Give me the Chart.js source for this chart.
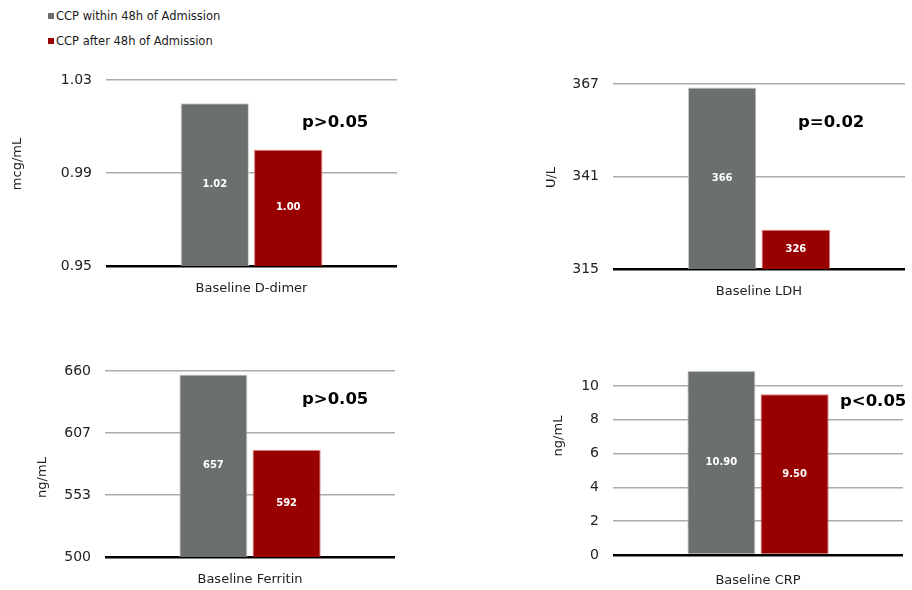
<!DOCTYPE html>
<html><head><meta charset="utf-8">
<script src="https://cdn.jsdelivr.net/npm/chart.js@4.4.0/dist/chart.umd.min.js"></script>
<style>
html,body{margin:0;padding:0;background:#fff;width:912px;height:590px;overflow:hidden;font-family:'DejaVu Sans',sans-serif;}
canvas{position:absolute;left:0;top:0;}
.leg{position:absolute;left:48px;font-size:11.5px;color:#1a1a1a;height:14px;line-height:14px;white-space:nowrap;}
.leg i{display:inline-block;width:6px;height:6px;margin-right:2px;vertical-align:1px;}
</style></head><body>
<script>
// ---- data ----
const seriesNames = ['CCP within 48h of Admission', 'CCP after 48h of Admission'];
const seriesColors = ['#6b706f', '#990000'];
const categories = ['Baseline D-dimer', 'Baseline LDH', 'Baseline Ferritin', 'Baseline CRP'];
const units = ['mcg/mL', 'U/L', 'ng/mL', 'ng/mL'];
const within48h = [1.02, 366, 657, 10.9];
const after48h = [1.00, 326, 592, 9.5];
const labelsWithin = ['1.02', '366', '657', '10.90'];
const labelsAfter = ['1.00', '326', '592', '9.50'];
const pValues = ['p>0.05', 'p=0.02', 'p>0.05', 'p<0.05'];
const axisMin = [0.95, 315, 500, 0];
const axisMax = [1.03, 367, 660, 11];
const tickLabelsDdimer = ['0.95', '0.99', '1.03'];
const tickLabelsLDH = ['315', '341', '367'];
const tickLabelsFerritin = ['500', '553', '607', '660'];
const tickLabelsCRP = ['0', '2', '4', '6', '8', '10'];
const tickLabels = [tickLabelsDdimer, tickLabelsLDH, tickLabelsFerritin, tickLabelsCRP];

// ---- layout (page pixels) ----
const W = 912, H = 590;
const panels = [
  {area: [106, 80, 397, 266], title: [17.5, 164], p: [302, 127], xPad: 7},
  {area: [613, 84, 905, 269], title: [552, 177.5], p: [798, 127], xPad: 7},
  {area: [105, 371, 395, 557], title: [42.5, 477.5], p: [302, 404], xPad: 7},
  {area: [613, 369, 903, 555], title: [559, 436], p: [840, 406], xPad: 10}
];

// legend
seriesNames.forEach((n, i) => {
  const d = document.createElement('div');
  d.className = 'leg';
  d.style.top = (i === 0 ? 9 : 34) + 'px';
  const sq = document.createElement('i');
  sq.style.background = seriesColors[i];
  d.appendChild(sq);
  d.appendChild(document.createTextNode(n));
  document.body.appendChild(d);
});

const annotPlugin = {
  id: 'annot',
  afterDatasetsDraw(chart, args, opts) {
    const ctx = chart.ctx;
    const bottom = chart.chartArea.bottom;
    ctx.save();
    ctx.font = 'bold 10px "DejaVu Sans"';
    ctx.fillStyle = '#ffffff';
    ctx.textAlign = 'center';
    ctx.textBaseline = 'middle';
    chart.data.datasets.forEach((ds, di) => {
      chart.getDatasetMeta(di).data.forEach((el, i) => {
        const base = Math.min(el.base, bottom);
        ctx.fillText(ds.valueLabels[i], el.x, (el.y + base) / 2);
      });
    });
    ctx.font = 'bold 16.5px "DejaVu Sans"';
    ctx.fillStyle = '#000';
    ctx.textAlign = 'left';
    ctx.textBaseline = 'alphabetic';
    ctx.fillText(opts.pText, opts.px, opts.py);
    ctx.translate(opts.tx, opts.ty);
    ctx.rotate(-Math.PI / 2);
    ctx.font = '13px "DejaVu Sans"';
    ctx.fillStyle = '#222';
    ctx.textAlign = 'center';
    ctx.textBaseline = 'middle';
    ctx.fillText(opts.title, 0, 0);
    ctx.restore();
  }
};

panels.forEach((pn, k) => {
  const cv = document.createElement('canvas');
  cv.width = W; cv.height = H;
  document.body.appendChild(cv);
  const [L, T, R, B] = pn.area;
  const yTicks = {
    color: '#222',
    font: {family: 'DejaVu Sans', size: 14},
    padding: 14,
    callback: (v, i) => tickLabels[k][i]
  };
  if (k === 3) { yTicks.stepSize = 2; yTicks.includeBounds = false; }
  else { yTicks.count = tickLabels[k].length; }
  new Chart(cv, {
    type: 'bar',
    data: {
      labels: [categories[k]],
      datasets: [
        {label: seriesNames[0], data: [within48h[k]], valueLabels: [labelsWithin[k]],
         backgroundColor: seriesColors[0], borderColor: 'rgba(200,204,203,0.9)', borderWidth: 1},
        {label: seriesNames[1], data: [after48h[k]], valueLabels: [labelsAfter[k]],
         backgroundColor: seriesColors[1], borderColor: 'rgba(205,90,90,0.8)', borderWidth: 1}
      ]
    },
    options: {
      responsive: false,
      animation: false,
      events: [],
      datasets: {bar: {categoryPercentage: 0.505, barPercentage: 0.93}},
      layout: {padding: {left: 0, top: T, right: W - R, bottom: 0}},
      plugins: {
        legend: {display: false},
        tooltip: {enabled: false},
        annot: {pText: pValues[k], px: pn.p[0], py: pn.p[1], title: units[k], tx: pn.title[0], ty: pn.title[1]}
      },
      scales: {
        x: {
          grid: {display: false},
          border: {display: false},
          ticks: {color: '#222', font: {family: 'DejaVu Sans', size: 13}, padding: pn.xPad},
          afterFit: s => { s.height = H - B; }
        },
        y: {
          min: axisMin[k], max: axisMax[k],
          border: {display: false},
          grid: {
            drawTicks: false,
            color: c => c.index === 0 ? '#000' : '#ababab',
            lineWidth: c => c.index === 0 ? 2.5 : 1.6
          },
          ticks: yTicks,
          afterFit: s => { s.width = L; }
        }
      }
    },
    plugins: [annotPlugin]
  });
});
</script>
</body></html>
